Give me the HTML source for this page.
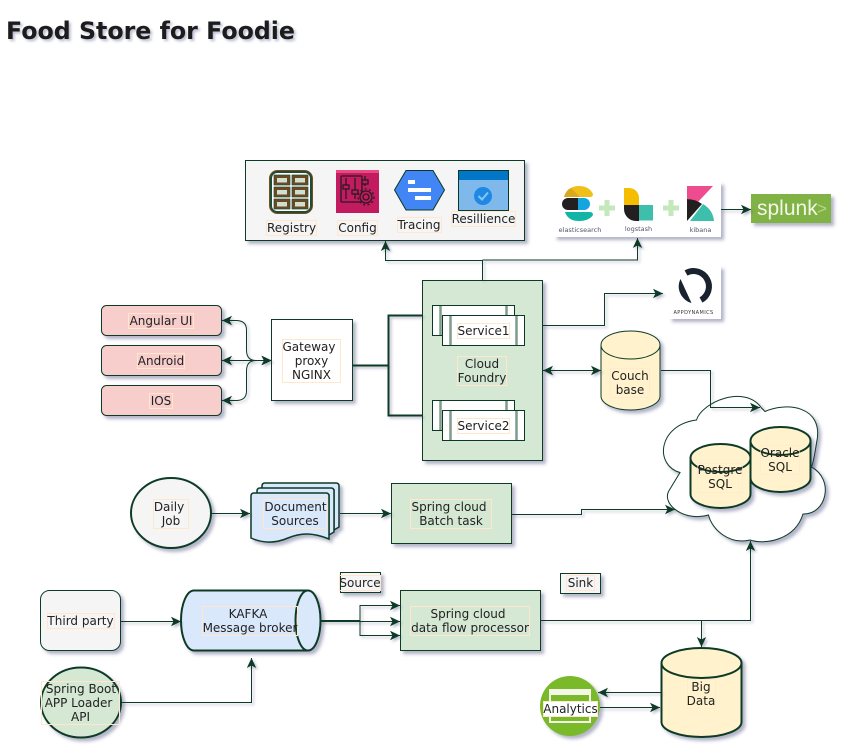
<!DOCTYPE html>
<html>
<head>
<meta charset="utf-8">
<style>
html,body{margin:0;padding:0;background:#fff;width:843px;height:749px;overflow:hidden}
svg{display:block}
text{font-family:"DejaVu Sans",sans-serif;font-size:12px;fill:#222;text-anchor:middle}
.n{stroke:#0a3a25;stroke-width:1}
.e{fill:none;stroke:#0a3a25;stroke-width:1;marker-end:url(#a)}
.p{fill:none;stroke:#0a3a25;stroke-width:1}
.l{fill:none;stroke:#ffe6cc;stroke-width:1}
</style>
</head>
<body>
<svg width="843" height="749" viewBox="0 0 843 749" xmlns="http://www.w3.org/2000/svg">
<defs>
<filter id="s" x="-20%" y="-20%" width="150%" height="150%"><feDropShadow dx="3" dy="3" stdDeviation="1.7" flood-color="#3D4574" flood-opacity=".4"/></filter>
<filter id="t" x="-5%" y="-20%" width="110%" height="150%"><feDropShadow dx="2" dy="2" stdDeviation="1.2" flood-color="#3D4574" flood-opacity=".35"/></filter>
<marker id="a" markerUnits="userSpaceOnUse" markerWidth="13" markerHeight="12" refX="10" refY="5" orient="auto-start-reverse"><path d="M0,0.300 L10,5 L0,9.700 L2.500,5 Z" fill="#0a3a25"/></marker>
</defs>

<text x="6" y="39" filter="url(#t)" textLength="289" lengthAdjust="spacingAndGlyphs" style="font-size:24px;font-weight:bold;text-anchor:start;fill:#1a1a1a">Food Store for Foodie</text>

<!-- top box -->
<g filter="url(#s)"><rect class="n" x="245.500" y="160.500" width="279" height="80" fill="#f5f5f5"/></g>
<!-- Registry -->
<rect x="269.500" y="170.500" width="43" height="43" rx="8" fill="#1e4d36" stroke="#7a4a20"/>
<rect x="272" y="173" width="38" height="38" rx="5" fill="#fff"/>
<g fill="#6b4a22" stroke="#1e4d36" stroke-width=".7"><rect x="274" y="175" width="16" height="10"/><rect x="292" y="175" width="16" height="10"/><rect x="274" y="187" width="16" height="10"/><rect x="292" y="187" width="16" height="10"/><rect x="274" y="199" width="16" height="10"/><rect x="292" y="199" width="16" height="10"/></g>
<g fill="#cfe0d2"><rect x="277" y="178" width="10" height="4.500"/><rect x="295" y="178" width="10" height="4.500"/><rect x="277" y="190" width="10" height="4.500"/><rect x="295" y="190" width="10" height="4.500"/><rect x="277" y="202" width="10" height="4.500"/><rect x="295" y="202" width="10" height="4.500"/></g>
<rect class="l" x="266.500" y="220.500" width="50" height="15"/>
<text x="291.500" y="232">Registry</text>
<!-- Config -->
<rect x="336" y="170" width="43" height="43" fill="#c21b5f"/>
<rect x="336" y="170" width="43" height="3" fill="#e8497f"/>
<g fill="none" stroke="#2a1a22" stroke-width="1.300"><rect x="341" y="176" width="21" height="26" rx="1"/><path d="M346 178V199M355 178V199M365 176V186"/><rect x="343" y="185" width="6" height="4" fill="#c21b5f"/><rect x="352" y="190" width="6" height="4" fill="#c21b5f"/><rect x="362" y="180" width="6" height="4" fill="#c21b5f"/><circle cx="366" cy="197" r="6" fill="#c21b5f"/><circle cx="366" cy="197" r="3"/><circle cx="366" cy="197" r="8" stroke-dasharray="2 2.500"/></g>
<rect class="l" x="337.500" y="220.500" width="40" height="15"/>
<text x="357.500" y="232">Config</text>
<!-- Tracing -->
<path d="M394.500 190 L406 170.500 L433 170.500 L444.500 190 L433 210 L406 210 Z" fill="#4285f4" stroke="#0a3a25"/>
<g fill="#fff"><rect x="408" y="180" width="7" height="4"/><rect x="408" y="188" width="23" height="4"/><rect x="415" y="196" width="16" height="4"/></g>
<rect class="l" x="397.500" y="217.500" width="44" height="15"/>
<text x="419" y="229">Tracing</text>
<!-- Resillience -->
<rect x="458.500" y="170.500" width="50" height="40" fill="#7fb9ec" stroke="#0a3a25"/>
<rect x="459" y="171" width="49" height="9" fill="#0277c7"/>
<circle cx="483" cy="196" r="9" fill="#1e88e5"/>
<path d="M478.500 196 L482 199.500 L488 192.500" fill="none" stroke="#8cc4f0" stroke-width="2"/>
<rect class="l" x="451.500" y="211.500" width="64" height="15"/>
<text x="483.500" y="223">Resillience</text>

<!-- ELK -->
<g filter="url(#s)"><rect x="554" y="182" width="167" height="55" fill="#fff"/></g>
<path d="M564 197 Q568 186 579 186 Q589 186 593 194 Q593 197 590 197 Z" fill="#f0bf1a"/>
<path d="M564 197 Q566 190 571 188 L580 197 Z" fill="#d9a81c"/>
<path d="M568 198 H579 V210 H568 A6 6 0 0 1 568 198 Z" fill="#231f20"/>
<path d="M578 198 H584 A6 6 0 0 1 584 210 H578 Z" fill="#12a5e0"/>
<path d="M565 212 H590 Q593 212 593 215 Q589 221 579 221 Q568 221 565 212 Z" fill="#12b5a5"/>
<g fill="#c4e8bc"><rect x="604.500" y="200" width="5" height="16"/><rect x="599" y="205.500" width="16" height="5"/></g>
<path d="M624 188 H629 A10 10 0 0 1 639 198 V205 H624 Z" fill="#f4bd00"/>
<path d="M624 205 H639 V221 H636 A12 12 0 0 1 624 209 Z" fill="#231f20"/>
<rect x="639" y="205" width="14" height="15.500" fill="#3dbfac"/>
<g fill="#c4e8bc"><rect x="668.500" y="200" width="5" height="16"/><rect x="663" y="205.500" width="16" height="5"/></g>
<path d="M687 186 H713 L697 203 Q692 199 687 199 Z" fill="#ef4b8f"/>
<path d="M687 199 Q695 199 702 204 L687 221 Z" fill="#231f20"/>
<path d="M690 221 L703 204 Q713 210 714 221 Z" fill="#3dbfac"/>
<text x="580" y="232" style="font-size:6.500px;fill:#556">elasticsearch</text>
<text x="638.500" y="231" style="font-size:6.500px;fill:#556">logstash</text>
<text x="700.500" y="232" style="font-size:6.500px;fill:#556">kibana</text>

<!-- splunk -->
<g filter="url(#s)"><rect x="751" y="194" width="80" height="29" fill="#81b245"/></g>
<text x="757" y="215" style="font-size:21px;fill:#f2f7e8;font-family:'Liberation Sans',sans-serif;text-anchor:start">splunk</text>
<text x="817" y="214" style="font-size:17px;fill:#b8d68c;font-family:'Liberation Sans',sans-serif;text-anchor:start">&gt;</text>

<!-- AppD -->
<g filter="url(#s)"><rect x="669" y="266" width="52" height="53" fill="#fff"/></g>
<path d="M686 273 A14 14 0 0 1 701 300" fill="none" stroke="#1a2230" stroke-width="6"/>
<path d="M680.500 279 L691.500 303 C683 301 675 290 680.500 279 Z" fill="#1a2230"/>
<text x="693.500" y="314" style="font-size:5px;fill:#333;letter-spacing:.4px">APPDYNAMICS</text>

<!-- clients -->
<g filter="url(#s)">
<rect class="n" x="101.500" y="305.500" width="120" height="30" rx="5" fill="#f8cecc"/>
<rect class="n" x="101.500" y="345.500" width="120" height="30" rx="5" fill="#f8cecc"/>
<rect class="n" x="101.500" y="385.500" width="120" height="30" rx="5" fill="#f8cecc"/>
<rect class="n" x="271.500" y="319.500" width="81" height="81" fill="#fff"/>
</g>
<rect class="l" x="128.500" y="313.500" width="65" height="15"/>
<text x="161" y="325">Angular UI</text>
<rect class="l" x="137.500" y="353.500" width="47" height="15"/>
<text x="161" y="365">Android</text>
<rect class="l" x="149.500" y="393.500" width="23" height="15"/>
<text x="161" y="405">IOS</text>
<rect class="l" x="282.500" y="339.500" width="58" height="43"/>
<text x="309" y="351">Gateway</text>
<text x="311.500" y="365">proxy</text>
<text x="311.500" y="379">NGINX</text>

<!-- Cloud foundry -->
<g filter="url(#s)"><rect class="n" x="422.500" y="280.500" width="120" height="180" fill="#d5e8d4"/></g>
<g class="n" fill="#fff" stroke="#0a3a25">
<rect x="432.500" y="305.500" width="82" height="30"/><path d="M440.500 306v29M506.500 306v29" stroke="#7f9b8a" stroke-width="2.500"/>
<rect x="442.500" y="315.500" width="82" height="30"/><path d="M450.500 316v29M516.500 316v29" stroke="#7f9b8a" stroke-width="2.500"/>
<rect x="432.500" y="400.500" width="82" height="30"/><path d="M440.500 401v29M506.500 401v29" stroke="#7f9b8a" stroke-width="2.500"/>
<rect x="442.500" y="410.500" width="82" height="30"/><path d="M450.500 411v29M516.500 411v29" stroke="#7f9b8a" stroke-width="2.500"/>
</g>
<rect class="l" x="457.500" y="323.500" width="52" height="15"/>
<text x="483.500" y="335">Service1</text>
<rect class="l" x="457.500" y="418.500" width="52" height="15"/>
<text x="483.500" y="430">Service2</text>
<rect class="l" x="457.500" y="356.500" width="49" height="29"/>
<text x="482" y="368">Cloud</text>
<text x="482" y="382">Foundry</text>

<!-- couch -->
<g filter="url(#s)">
<path class="n" d="M601 345 A29.500 14 0 0 1 660 345 V396 A29.500 14 0 0 1 601 396 Z" fill="#fff2cc"/>
<path class="p" d="M601 345 A29.500 14 0 0 0 660 345"/>
</g>
<rect class="l" x="610.500" y="368.500" width="39" height="29" stroke-opacity=".6"/>
<text x="630" y="380">Couch</text>
<text x="630" y="394">base</text>

<!-- cloud -->
<g filter="url(#s)">
<path class="n" d="M696.500 420 C702 402 745 384 761.500 408 L765 411.500 C785 402 825 405 816.500 443 C815 452 814 460 811.500 467 C835 480 826 515 803 514 C795 540 765 545 750 540 C730 545 712 530 708.500 515 C685 522 662 505 668.500 491.500 L680 472.500 C654 465 658 425 696.500 420 Z" fill="#fff"/>
</g>
<g filter="url(#s)">
<path class="n" style="stroke-width:2" d="M750.500 441 A30 14 0 0 1 810.500 441 V478 A30 14 0 0 1 750.500 478 Z" fill="#fff2cc"/>
<path class="p" style="stroke-width:2" d="M750.500 441 A30 14 0 0 0 810.500 441"/>
<path class="n" style="stroke-width:2" d="M690.500 458 A30 14 0 0 1 750.500 458 V494 A30 14 0 0 1 690.500 494 Z" fill="#fff2cc"/>
<path class="p" style="stroke-width:2" d="M690.500 458 A30 14 0 0 0 750.500 458"/>
</g>
<rect class="l" x="697.500" y="463.500" width="45" height="29" stroke-opacity=".5"/>
<text x="720" y="474">Postgre</text>
<text x="720" y="488">SQL</text>
<rect class="l" x="760.500" y="445.500" width="39" height="29" stroke-opacity=".5"/>
<text x="780" y="457">Oracle</text>
<text x="780" y="471">SQL</text>

<!-- row 2 -->
<g filter="url(#s)">
<ellipse cx="171" cy="513" rx="40" ry="35" fill="#f5f5f5" stroke="#0a3a25" stroke-width="2"/>
<path d="M262 486 Q262 483 265 483 H336 Q339 483 339 486 V527 L334 530 V490 H262 Z" fill="#dae8fc" stroke="#0a3a25" stroke-width="1.500"/>
<path d="M257 491 Q257 488 260 488 H331 Q334 488 334 491 V532 L329 535 V495 H257 Z" fill="#dae8fc" stroke="#0a3a25" stroke-width="1.500"/>
<path d="M251 496 Q251 493 254 493 H326 Q329 493 329 496 V539 C312 532 300 533 288 538 C274 544 262 543 251 538 Z" fill="#dae8fc" stroke="#0a3a25" stroke-width="1.500"/>
<rect x="391.500" y="483.500" width="120" height="60" fill="#d5e8d4" stroke="#0a3a25"/>
</g>
<rect class="l" x="153.500" y="499.500" width="35" height="29"/>
<text x="169" y="511">Daily</text>
<text x="171" y="525">Job</text>
<rect class="l" x="263.500" y="499.500" width="63" height="29"/>
<text x="295.500" y="511">Document</text>
<text x="295" y="525">Sources</text>
<rect class="l" x="410.500" y="499.500" width="81" height="29"/>
<text x="449" y="511">Spring cloud</text>
<text x="451" y="525">Batch task</text>

<!-- row 3 -->
<g filter="url(#s)">
<rect x="40.500" y="590.500" width="80" height="60" rx="9" fill="#f5f5f5" stroke="#0a3a25"/>
<path d="M194 590.500 H308 A12.500 30 0 0 1 308 650.500 H194 A13 30 0 0 1 194 590.500 Z" fill="#dae8fc" stroke="#0a3a25" stroke-width="2"/>
<path d="M308 590.500 A12.500 30 0 0 0 308 650.500" fill="none" stroke="#0a3a25" stroke-width="2"/>
<ellipse cx="81" cy="702.500" rx="40" ry="35" fill="#d5e8d4" stroke="#0a3a25" stroke-width="2"/>
<rect x="400.500" y="590.500" width="140" height="60" fill="#d5e8d4" stroke="#0a3a25"/>
<rect x="340.500" y="572.500" width="40" height="20" fill="#f5f5f5" stroke="#0a3a25"/>
<rect x="560.500" y="573.500" width="40" height="20" fill="#f5f5f5" stroke="#0a3a25"/>
<path d="M661.500 663 A40 15 0 0 1 741.500 663 V722 A40 15 0 0 1 661.500 722 Z" fill="#fff2cc" stroke="#0a3a25" stroke-width="2"/>
<path d="M661.500 663 A40 15 0 0 0 741.500 663" fill="none" stroke="#0a3a25" stroke-width="2"/>
<circle cx="570" cy="706" r="30" fill="#7ab929"/>
</g>
<rect class="l" x="47.500" y="613.500" width="67" height="15"/>
<text x="80.500" y="625">Third party</text>
<rect class="l" x="202.500" y="606.500" width="95" height="29"/>
<text x="248" y="618">KAFKA</text>
<text x="250" y="632">Message broker</text>
<rect class="l" x="41.500" y="681.500" width="78" height="43"/>
<text x="81" y="693">Spring Boot</text>
<text x="78.500" y="707">APP Loader</text>
<text x="80.500" y="721">API</text>
<rect class="l" x="410.500" y="606.500" width="119" height="29"/>
<text x="468" y="618">Spring cloud</text>
<text x="470" y="632">data flow processor</text>
<rect class="l" x="339.500" y="575.500" width="41" height="15"/>
<text x="360" y="587">Source</text>
<rect class="l" x="566.500" y="575.500" width="28" height="15"/>
<text x="580.500" y="587">Sink</text>
<rect class="l" x="687.500" y="679.500" width="28" height="29" stroke-opacity=".5"/>
<text x="701" y="691">Big</text>
<text x="701" y="705">Data</text>
<!-- analytics -->
<rect x="550" y="690" width="40" height="32" fill="none" stroke="#f2f7e8" stroke-width="2"/>
<rect x="550" y="689" width="40" height="6" fill="#f2f7e8"/>
<rect x="543.500" y="701.500" width="54" height="15" fill="#fff" stroke="#ffe6cc"/>
<text x="570.500" y="713">Analytics</text>

<!-- edges -->
<g filter="url(#t)">
<path class="e" d="M482.500 280 V260.500 H385.500 V241"/>
<path class="e" d="M482.500 260 H637.500 V238"/>
<path class="e" d="M721 209.500 H751"/>
<path class="e" d="M542.500 325.500 H604.500 V293.500 H663"/>
<path class="p" style="stroke-width:2" d="M353 365.500 H388.500 M388.500 315.500 H422 M388.500 314.500 V416.500 M388.500 415.500 H422"/>
<path class="e" style="marker-start:url(#a)" d="M222 320.500 H236 Q246.500 320.500 246.500 330 V350 Q246.500 360.500 256 360.500 H271.500"/>
<path class="e" style="marker-start:url(#a)" d="M222 360.500 H271.500"/>
<path class="e" style="marker-start:url(#a)" d="M222 400.500 H236 Q246.500 400.500 246.500 391 V371 Q246.500 360.500 256 360.500 H271.500"/>
<path class="e" style="marker-start:url(#a)" d="M543 370.500 H601"/>
<path class="e" d="M661 370.500 H710.500 V407.500 H760"/>
<path class="e" d="M511.500 514.500 H581.500 V509.500 H675"/>
<path class="e" d="M211.500 513.500 H250"/>
<path class="e" d="M340 513.500 H391"/>
<path class="e" d="M120.500 621.500 H181"/>
<path class="e" d="M121 702.500 H251.500 V658"/>
<path class="p" style="stroke-width:2" d="M320.500 621 H360"/>
<path class="e" d="M360 621.500 V605.500 H400"/>
<path class="e" d="M360 621.500 H400"/>
<path class="e" d="M360 621.500 V635.500 H400"/>
<path class="e" d="M541 620.500 H750.500 V541"/>
<path class="e" d="M701.500 620.500 V647"/>
<path class="e" d="M661 692.500 H598"/>
<path class="e" d="M600 707.500 H660"/>
</g>
</svg>
</body>
</html>
